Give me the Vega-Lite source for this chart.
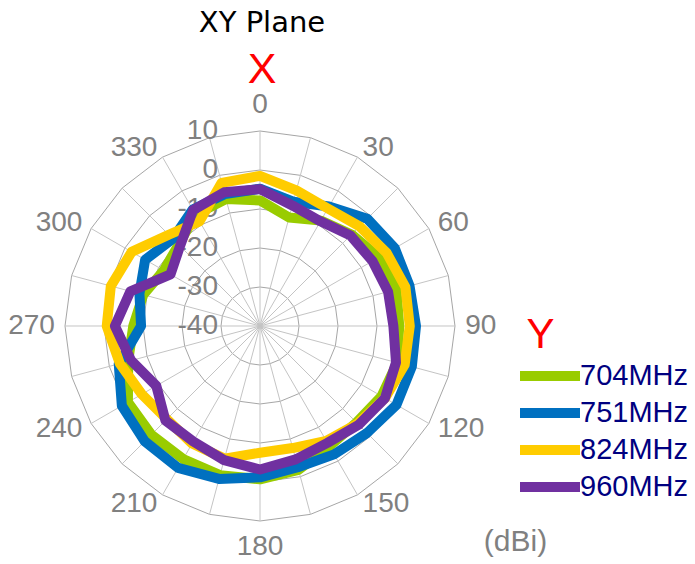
{
  "$schema": "https://vega.github.io/schema/vega-lite/v6.json",
  "width": 520,
  "height": 464,
  "autosize": {"type": "none"},
  "padding": {"left": 0, "top": 100, "right": 175, "bottom": 0},
  "background": "white",
  "config": {"view": {"stroke": null}},
  "title": {
    "text": "XY Plane",
    "subtitle": "X",
    "anchor": "middle",
    "frame": "group",
    "dx": 2,
    "offset": -1,
    "font": "DejaVu Sans",
    "fontSize": 29,
    "fontWeight": "normal",
    "color": "#000000",
    "subtitleFont": "Liberation Sans",
    "subtitleFontSize": 43,
    "subtitleColor": "#FF0000",
    "subtitlePadding": 11
  },
  "datasets": {
    "gain": [
      {"freq": "704MHz", "angle": 0, "gain": -7.8}, {"freq": "704MHz", "angle": 15, "gain": -11.2}, {"freq": "704MHz", "angle": 30, "gain": -8.8}, {"freq": "704MHz", "angle": 45, "gain": -6.8},
      {"freq": "704MHz", "angle": 60, "gain": -4.8}, {"freq": "704MHz", "angle": 75, "gain": -3.8}, {"freq": "704MHz", "angle": 90, "gain": -4.3}, {"freq": "704MHz", "angle": 105, "gain": -3.6},
      {"freq": "704MHz", "angle": 120, "gain": -4.0}, {"freq": "704MHz", "angle": 135, "gain": -5.0}, {"freq": "704MHz", "angle": 150, "gain": -4.4}, {"freq": "704MHz", "angle": 165, "gain": -1.8},
      {"freq": "704MHz", "angle": 180, "gain": -0.7}, {"freq": "704MHz", "angle": 195, "gain": -0.4}, {"freq": "704MHz", "angle": 210, "gain": -0.6}, {"freq": "704MHz", "angle": 225, "gain": -0.6},
      {"freq": "704MHz", "angle": 240, "gain": -0.9}, {"freq": "704MHz", "angle": 255, "gain": -5.0}, {"freq": "704MHz", "angle": 270, "gain": -7.5}, {"freq": "704MHz", "angle": 285, "gain": -9.0},
      {"freq": "704MHz", "angle": 300, "gain": -11.5}, {"freq": "704MHz", "angle": 315, "gain": -10.5}, {"freq": "704MHz", "angle": 330, "gain": -7.0}, {"freq": "704MHz", "angle": 345, "gain": -6.3},
      {"freq": "751MHz", "angle": 0, "gain": -4.8}, {"freq": "751MHz", "angle": 15, "gain": -7.0}, {"freq": "751MHz", "angle": 30, "gain": -4.6}, {"freq": "751MHz", "angle": 45, "gain": -1.1},
      {"freq": "751MHz", "angle": 60, "gain": -0.1}, {"freq": "751MHz", "angle": 75, "gain": -0.3}, {"freq": "751MHz", "angle": 90, "gain": 0.0}, {"freq": "751MHz", "angle": 105, "gain": 0.3},
      {"freq": "751MHz", "angle": 120, "gain": 0.4}, {"freq": "751MHz", "angle": 135, "gain": -1.2}, {"freq": "751MHz", "angle": 150, "gain": -2.0}, {"freq": "751MHz", "angle": 165, "gain": -2.5},
      {"freq": "751MHz", "angle": 180, "gain": -1.2}, {"freq": "751MHz", "angle": 195, "gain": 0.6}, {"freq": "751MHz", "angle": 210, "gain": 2.0}, {"freq": "751MHz", "angle": 225, "gain": 1.8},
      {"freq": "751MHz", "angle": 240, "gain": 0.9}, {"freq": "751MHz", "angle": 255, "gain": -2.5}, {"freq": "751MHz", "angle": 270, "gain": -9.5}, {"freq": "751MHz", "angle": 285, "gain": -8.0},
      {"freq": "751MHz", "angle": 300, "gain": -6.0}, {"freq": "751MHz", "angle": 315, "gain": -8.4}, {"freq": "751MHz", "angle": 330, "gain": -5.5}, {"freq": "751MHz", "angle": 345, "gain": -5.0},
      {"freq": "824MHz", "angle": 0, "gain": -1.5}, {"freq": "824MHz", "angle": 15, "gain": -4.0}, {"freq": "824MHz", "angle": 30, "gain": -5.2}, {"freq": "824MHz", "angle": 45, "gain": -3.9},
      {"freq": "824MHz", "angle": 60, "gain": -2.5}, {"freq": "824MHz", "angle": 75, "gain": -1.4}, {"freq": "824MHz", "angle": 90, "gain": -1.6}, {"freq": "824MHz", "angle": 105, "gain": -1.6},
      {"freq": "824MHz", "angle": 120, "gain": -3.0}, {"freq": "824MHz", "angle": 135, "gain": -4.6}, {"freq": "824MHz", "angle": 150, "gain": -6.0}, {"freq": "824MHz", "angle": 165, "gain": -7.6},
      {"freq": "824MHz", "angle": 180, "gain": -7.5}, {"freq": "824MHz", "angle": 195, "gain": -4.8}, {"freq": "824MHz", "angle": 210, "gain": -5.2}, {"freq": "824MHz", "angle": 225, "gain": -6.2},
      {"freq": "824MHz", "angle": 240, "gain": -5.0}, {"freq": "824MHz", "angle": 255, "gain": -2.8}, {"freq": "824MHz", "angle": 270, "gain": -0.7}, {"freq": "824MHz", "angle": 285, "gain": -0.4},
      {"freq": "824MHz", "angle": 300, "gain": -2.0}, {"freq": "824MHz", "angle": 315, "gain": -6.9}, {"freq": "824MHz", "angle": 330, "gain": -9.0}, {"freq": "824MHz", "angle": 345, "gain": -2.0},
      {"freq": "960MHz", "angle": 0, "gain": -4.9}, {"freq": "960MHz", "angle": 15, "gain": -8.0}, {"freq": "960MHz", "angle": 30, "gain": -9.0}, {"freq": "960MHz", "angle": 45, "gain": -7.2},
      {"freq": "960MHz", "angle": 60, "gain": -6.7}, {"freq": "960MHz", "angle": 75, "gain": -6.0}, {"freq": "960MHz", "angle": 90, "gain": -5.8}, {"freq": "960MHz", "angle": 105, "gain": -3.9},
      {"freq": "960MHz", "angle": 120, "gain": -3.0}, {"freq": "960MHz", "angle": 135, "gain": -4.2}, {"freq": "960MHz", "angle": 150, "gain": -5.4}, {"freq": "960MHz", "angle": 165, "gain": -4.6},
      {"freq": "960MHz", "angle": 180, "gain": -3.2}, {"freq": "960MHz", "angle": 195, "gain": -4.4}, {"freq": "960MHz", "angle": 210, "gain": -5.8}, {"freq": "960MHz", "angle": 225, "gain": -5.7},
      {"freq": "960MHz", "angle": 240, "gain": -9.3}, {"freq": "960MHz", "angle": 255, "gain": -5.8}, {"freq": "960MHz", "angle": 270, "gain": -2.8}, {"freq": "960MHz", "angle": 285, "gain": -5.6},
      {"freq": "960MHz", "angle": 300, "gain": -13.5}, {"freq": "960MHz", "angle": 315, "gain": -11.0}, {"freq": "960MHz", "angle": 330, "gain": -5.7}, {"freq": "960MHz", "angle": 345, "gain": -4.5}
    ],
    "angles": [
      {"angle": 0, "levels": [-30, -20, -10, 0, 10]}, {"angle": 15, "levels": [-30, -20, -10, 0, 10]}, {"angle": 30, "levels": [-30, -20, -10, 0, 10]}, {"angle": 45, "levels": [-30, -20, -10, 0, 10]},
      {"angle": 60, "levels": [-30, -20, -10, 0, 10]}, {"angle": 75, "levels": [-30, -20, -10, 0, 10]}, {"angle": 90, "levels": [-30, -20, -10, 0, 10]}, {"angle": 105, "levels": [-30, -20, -10, 0, 10]},
      {"angle": 120, "levels": [-30, -20, -10, 0, 10]}, {"angle": 135, "levels": [-30, -20, -10, 0, 10]}, {"angle": 150, "levels": [-30, -20, -10, 0, 10]}, {"angle": 165, "levels": [-30, -20, -10, 0, 10]},
      {"angle": 180, "levels": [-30, -20, -10, 0, 10]}, {"angle": 195, "levels": [-30, -20, -10, 0, 10]}, {"angle": 210, "levels": [-30, -20, -10, 0, 10]}, {"angle": 225, "levels": [-30, -20, -10, 0, 10]},
      {"angle": 240, "levels": [-30, -20, -10, 0, 10]}, {"angle": 255, "levels": [-30, -20, -10, 0, 10]}, {"angle": 270, "levels": [-30, -20, -10, 0, 10]}, {"angle": 285, "levels": [-30, -20, -10, 0, 10]},
      {"angle": 300, "levels": [-30, -20, -10, 0, 10]}, {"angle": 315, "levels": [-30, -20, -10, 0, 10]}, {"angle": 330, "levels": [-30, -20, -10, 0, 10]}, {"angle": 345, "levels": [-30, -20, -10, 0, 10]}
    ],
    "levels": [
      {"level": -40}, {"level": -30}, {"level": -20}, {"level": -10}, {"level": 0}, {"level": 10}
    ]
  },
  "encoding": {
    "x": {
      "field": "x", "type": "quantitative",
      "scale": {"domain": [-66.667, 66.667], "nice": false, "zero": false},
      "axis": {"title": "(dBi)", "domain": false, "ticks": false, "labels": false, "grid": false,
               "titleX": 515, "titleY": -14, "titleAlign": "center", "titleBaseline": "alphabetic", "titleAnchor": null,
               "titleFont": "Liberation Sans", "titleFontSize": 30, "titleFontWeight": "normal", "titleColor": "#808080"}
    },
    "y": {
      "field": "y", "type": "quantitative",
      "scale": {"domain": [-61.026, 57.949], "nice": false, "zero": false},
      "axis": {"title": "Y", "domain": false, "ticks": false, "labels": false, "grid": false,
               "titleX": 540, "titleY": 247, "titleAngle": 0, "titleAlign": "center", "titleBaseline": "alphabetic", "titleAnchor": null,
               "titleFont": "Liberation Sans", "titleFontSize": 42, "titleFontWeight": "normal", "titleColor": "#FF0000"}
    }
  },
  "layer": [
    {
      "data": {"name": "angles"},
      "transform": [
        {"flatten": ["levels"], "as": ["level"]},
        {"calculate": "datum.angle * PI / 180", "as": "rad"},
        {"calculate": "(datum.level + 40) * sin(datum.rad)", "as": "x"},
        {"calculate": "(datum.level + 40) * cos(datum.rad)", "as": "y"}
      ],
      "mark": {"type": "line", "interpolate": "linear-closed", "stroke": "#a6a6a6", "strokeWidth": 1},
      "encoding": {
        "detail": {"field": "level", "type": "nominal"},
        "order": {"field": "angle", "type": "quantitative"}
      }
    },
    {
      "data": {"name": "angles"},
      "transform": [
        {"calculate": "datum.angle * PI / 180", "as": "rad"},
        {"calculate": "50 * sin(datum.rad)", "as": "x"},
        {"calculate": "50 * cos(datum.rad)", "as": "y"}
      ],
      "mark": {"type": "rule", "stroke": "#c4c4c4", "strokeWidth": 1},
      "encoding": {
        "x2": {"datum": 0},
        "y2": {"datum": 0}
      }
    },
    {
      "data": {"name": "levels"},
      "transform": [
        {"calculate": "0", "as": "x"},
        {"calculate": "datum.level + 40", "as": "y"}
      ],
      "mark": {"type": "text", "align": "right", "baseline": "middle", "dx": -42, "font": "Liberation Sans", "fontSize": 28, "fill": "#808080"},
      "encoding": {"text": {"field": "level", "type": "nominal"}}
    },
    {
      "data": {"name": "angles"},
      "transform": [
        {"filter": "datum.angle % 30 == 0 && datum.angle > 0 && datum.angle < 180"},
        {"calculate": "datum.angle * PI / 180", "as": "rad"},
        {"calculate": "52.6 * sin(datum.rad)", "as": "x"},
        {"calculate": "52.6 * cos(datum.rad)", "as": "y"}
      ],
      "mark": {"type": "text", "align": "left", "baseline": "middle", "font": "Liberation Sans", "fontSize": 28, "fill": "#808080"},
      "encoding": {"text": {"field": "angle", "type": "nominal"}}
    },
    {
      "data": {"name": "angles"},
      "transform": [
        {"filter": "datum.angle % 30 == 0 && datum.angle > 180"},
        {"calculate": "datum.angle * PI / 180", "as": "rad"},
        {"calculate": "52.6 * sin(datum.rad)", "as": "x"},
        {"calculate": "52.6 * cos(datum.rad)", "as": "y"}
      ],
      "mark": {"type": "text", "align": "right", "baseline": "middle", "font": "Liberation Sans", "fontSize": 28, "fill": "#808080"},
      "encoding": {"text": {"field": "angle", "type": "nominal"}}
    },
    {
      "data": {"name": "angles"},
      "transform": [
        {"filter": "datum.angle == 0 || datum.angle == 180"},
        {"calculate": "datum.angle * PI / 180", "as": "rad"},
        {"calculate": "56.7 * sin(datum.rad)", "as": "x"},
        {"calculate": "56.7 * cos(datum.rad)", "as": "y"}
      ],
      "mark": {"type": "text", "align": "center", "baseline": "middle", "font": "Liberation Sans", "fontSize": 28, "fill": "#808080"},
      "encoding": {"text": {"field": "angle", "type": "nominal"}}
    },
    {
      "data": {"name": "gain"},
      "transform": [
        {"calculate": "datum.angle * PI / 180", "as": "rad"},
        {"calculate": "(datum.gain + 40) * sin(datum.rad)", "as": "x"},
        {"calculate": "(datum.gain + 40) * cos(datum.rad)", "as": "y"}
      ],
      "mark": {"type": "line", "interpolate": "linear-closed", "strokeWidth": 10, "strokeJoin": "round"},
      "encoding": {
        "color": {
          "field": "freq", "type": "nominal",
          "scale": {"domain": ["704MHz", "751MHz", "824MHz", "960MHz"], "range": ["#99CC00", "#0070C0", "#FFCC00", "#7030A0"]},
          "legend": {"orient": "none", "legendX": 533, "legendY": 259, "title": null,
                     "labelFont": "Liberation Sans", "labelFontSize": 29, "labelColor": "#000080",
                     "symbolType": "M-2.5,0H2.5", "symbolSize": 576, "symbolStrokeWidth": 10,
                     "labelOffset": 13, "rowPadding": -4, "padding": 0}
        },
        "order": {"field": "angle", "type": "quantitative"}
      }
    }
  ]
}
